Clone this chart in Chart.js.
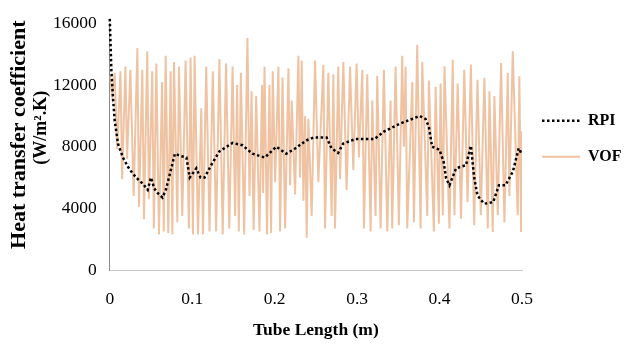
<!DOCTYPE html>
<html>
<head>
<meta charset="utf-8">
<script src="https://cdn.jsdelivr.net/npm/chart.js@4/dist/chart.umd.min.js"></script>
<style>
html,body{margin:0;padding:0;background:#fff;}
#wrap{width:624px;height:352px;}
</style>
</head>
<body>
<div id="wrap"><canvas id="c" width="624" height="352"></canvas></div>
<script>
const seriesNames = ['RPI', 'VOF'];
const xTicks = [0, 0.1, 0.2, 0.3, 0.4, 0.5];
const yTicks = [0, 4000, 8000, 12000, 16000];
const xTitle = 'Tube Length (m)';
const yTitleLines = ['Heat transfer coefficient', '(W/m\u00B2.K)'];

const rpiX = [0,0.002,0.004,0.006,0.01,0.016,0.022,0.028,0.034,0.04,0.046,0.05,0.054,0.058,0.064,0.068,0.073,0.079,0.086,0.093,0.097,0.101,0.105,0.11,0.115,0.124,0.133,0.149,0.161,0.173,0.188,0.202,0.214,0.224,0.238,0.247,0.263,0.269,0.277,0.283,0.298,0.321,0.333,0.352,0.376,0.383,0.387,0.391,0.4,0.405,0.408,0.412,0.42,0.432,0.438,0.442,0.446,0.454,0.465,0.472,0.48,0.489,0.496,0.5];
const rpiY = [16300,12900,11150,9700,8200,7300,6700,6250,5900,5600,5200,6000,5300,5000,4700,5200,6250,7550,7400,7300,6000,6300,6600,6000,6000,6900,7700,8250,8100,7550,7300,8000,7550,7850,8400,8600,8600,7900,7600,8200,8500,8500,9000,9500,10000,9800,9300,8000,7800,7000,5950,5500,6600,6800,8060,6000,4840,4300,4400,5500,5500,6400,7900,7500];

const vofX = [0,0.003,0.006,0.009,0.013,0.015,0.019,0.021,0.025,0.029,0.0335,0.0355,0.0395,0.0415,0.0455,0.0475,0.0515,0.0535,0.0565,0.0597,0.0635,0.0655,0.0678,0.071,0.0738,0.0759,0.0779,0.082,0.0839,0.088,0.092,0.096,0.098,
0.1009,0.1029,0.107,0.111,0.113,0.117,0.121,0.125,0.129,0.133,0.137,0.141,0.145,0.149,0.152,0.1545,0.1565,0.159,0.163,0.167,0.1695,0.172,0.1745,0.1776,0.1816,0.1847,0.186,0.1877,0.1907,0.1937,0.1957,0.1977,
0.2006,0.2046,0.2066,0.2096,0.2127,0.2167,0.2187,0.2207,0.2248,0.2288,0.2308,0.2328,0.2349,0.2369,0.2389,0.2409,0.2449,0.249,0.253,0.2591,0.2611,0.2651,0.2691,0.2712,0.2732,0.2772,0.2793,0.2833,0.2873,0.2914,0.2954,0.2994,
0.3022,0.3063,0.3083,0.3123,0.3164,0.3184,0.3224,0.3244,0.3285,0.3325,0.3366,0.3406,0.3426,0.3467,0.3507,0.3547,0.3567,0.3588,0.3608,0.3669,0.3689,0.3729,0.377,0.379,0.3851,0.3871,0.3931,0.3952,0.3992,0.4012,
0.404,0.406,0.412,0.416,0.418,0.422,0.426,0.43,0.434,0.438,0.442,0.446,0.45,0.4544,0.4585,0.4605,0.4645,0.4665,0.4706,0.4746,0.4787,0.4827,0.4847,0.4888,0.4948,0.4968,0.4989,0.5];
const vofY = [12600,11300,12800,7850,12900,5900,13200,7200,13000,4800,14400,4100,13000,3300,14200,4600,12900,2700,13400,2300,12200,2500,13900,2400,12900,2300,13500,3100,13200,3500,13600,2700,13800,
2300,13900,2300,10500,2300,13200,2500,12900,2500,13700,2300,13400,2700,13200,3500,12000,2500,12800,2300,15050,4800,11600,2600,11300,2500,12000,5000,13200,2300,12000,2400,12900,
5700,13200,2500,12500,2700,13100,5500,11000,4900,13900,6000,13600,4500,10000,2100,9800,3500,13600,5700,13300,2700,12800,3500,12700,2700,13200,5900,13500,5200,13200,6500,13400,
7300,13000,2700,12700,2500,11000,3500,12600,2700,13000,2500,11000,2700,13200,2900,13900,8000,13200,2700,12200,3100,14600,2700,13500,3500,12300,2500,11900,3000,12100,
3550,13220,2700,13650,3550,12100,3330,13000,4400,13330,2900,12350,3550,12470,2700,11600,2470,11300,3550,13440,3100,12790,4800,14190,3550,12580,2470,9000];

const toPts = (xs, ys) => xs.map((x, i) => ({x: x, y: ys[i]}));

const serif = "'Liberation Serif', 'Times New Roman', serif";

const yTitlePlugin = {
  id: 'yTitle',
  afterDraw(chart) {
    const ctx = chart.ctx;
    const a = chart.chartArea;
    const mid = (a.top + a.bottom) / 2;
    ctx.save();
    ctx.fillStyle = '#000';
    ctx.textAlign = 'center';
    ctx.textBaseline = 'middle';
    ctx.translate(19, mid - 12);
    ctx.rotate(-Math.PI / 2);
    ctx.font = "bold 22px " + serif;
    ctx.fillText(yTitleLines[0], 0, 0);
    ctx.restore();
    ctx.save();
    ctx.fillStyle = '#000';
    ctx.textAlign = 'center';
    ctx.textBaseline = 'middle';
    ctx.translate(41, mid - 19);
    ctx.rotate(-Math.PI / 2);
    ctx.font = "bold 18px " + serif;
    ctx.fillText(yTitleLines[1], 0, 0);
    ctx.restore();
  }
};

const legendShift = {
  id: 'legendShift',
  afterLayout(chart) {
    const l = chart.legend;
    if (l) { l.top -= 8; l.bottom -= 8; }
  }
};

new Chart(document.getElementById('c'), {
  type: 'line',
  data: {
    datasets: [
      {
        label: seriesNames[0],
        data: toPts(rpiX, rpiY),
        borderColor: '#000000',
        backgroundColor: '#000000',
        borderWidth: 2.5,
        borderDash: [2.5, 2.5],
        pointRadius: 0,
        tension: 0,
        fill: false,
        clip: 6
      },
      {
        label: seriesNames[1],
        data: toPts(vofX, vofY),
        borderColor: '#efc3a2',
        backgroundColor: '#efc3a2',
        borderWidth: 2,
        pointRadius: 0,
        tension: 0,
        fill: false
      }
    ]
  },
  plugins: [yTitlePlugin, legendShift],
  options: {
    responsive: false,
    animation: false,
    devicePixelRatio: 1,
    layout: { padding: { left: 40, right: 0, top: 14, bottom: 11 } },
    plugins: {
      tooltip: { enabled: false },
      legend: {
        position: 'right',
        align: 'center',
        fullSize: false,
        maxWidth: 102,
        labels: {
          usePointStyle: true,
          pointStyle: 'line',
          pointStyleWidth: 38,
          padding: 20,
          color: '#000',
          font: { family: serif, size: 16, weight: 'bold' },
          generateLabels: (chart) => {
            const items = Chart.defaults.plugins.legend.labels.generateLabels(chart);
            items.forEach((it) => {
              const ds = chart.data.datasets[it.datasetIndex];
              it.lineDash = ds.borderDash || [];
              it.strokeStyle = ds.borderColor;
              it.lineWidth = ds.borderWidth;
              it.pointStyle = 'line';
            });
            return items;
          }
        }
      }
    },
    scales: {
      x: {
        type: 'linear',
        min: 0,
        max: 0.5,
        afterBuildTicks: (s) => { s.ticks = xTicks.map(v => ({value: v})); },
        grid: { display: false, drawTicks: false },
        border: { display: true, color: '#c8c8c8', width: 1 },
        ticks: {
          color: '#000',
          padding: 19,
          maxRotation: 0,
          font: { family: serif, size: 17.5 },
          callback: (v) => String(v)
        },
        title: {
          display: true,
          text: xTitle,
          color: '#000',
          padding: { top: -9, bottom: 0 },
          font: { family: serif, size: 17.5, weight: 'bold' }
        }
      },
      y: {
        type: 'linear',
        min: 0,
        max: 16000,
        afterBuildTicks: (s) => { s.ticks = yTicks.map(v => ({value: v})); },
        grid: { display: false, drawTicks: false },
        border: { display: true, color: '#8c8c8c', width: 1 },
        ticks: {
          color: '#000',
          padding: 13,
          font: { family: serif, size: 17.5 },
          callback: (v) => String(v)
        },
        title: { display: false }
      }
    }
  }
});
</script>
</body>
</html>
